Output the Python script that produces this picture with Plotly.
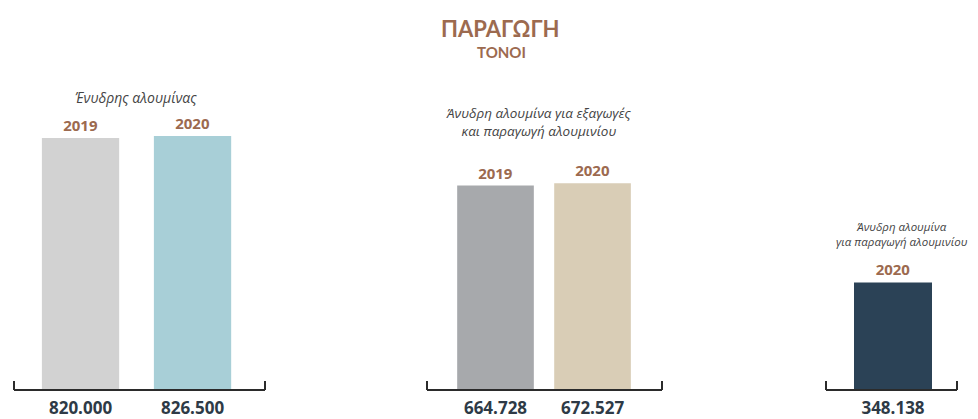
import plotly.graph_objects as go

# Production volumes (tonnes)
groups = [
    "Ένυδρης αλουμίνας",
    "Άνυδρη αλουμίνα για εξαγωγές<br>και παραγωγή αλουμινίου",
    "Άνυδρη αλουμίνα<br>για παραγωγή αλουμινίου",
]
years_hydrate = ["2019", "2020"]
tonnes_hydrate = [820000, 826500]
years_export = ["2019", "2020"]
tonnes_export = [664728, 672527]
years_smelter = ["2020"]
tonnes_smelter = [348138]

title_main = "ΠΑΡΑΓΩΓΗ"
title_unit = "ΤΟΝΟΙ"

W, H = 978, 419
BROWN = "#9c6a4f"
VALUE_COLOR = "#2e3a46"
BRACKET = "#2b2b2b"
NOTE = "#444444"


def fmt(v):
    return f"{v:,}".replace(",", ".")


panels = [
    dict(years=years_hydrate, vals=tonnes_hydrate, colors=["#d2d2d2", "#a8cfd7"],
         px=(14, 265), rng=[-0.594, 1.647], width=0.69, ax="x"),
    dict(years=years_export, vals=tonnes_export, colors=["#a7a9ac", "#d9cdb6"],
         px=(427, 662), rng=[-0.706, 1.716], width=0.79, ax="x2"),
    dict(years=years_smelter, vals=tonnes_smelter, colors=["#2b4256"],
         px=(826, 957), rng=[-0.67, 0.64], width=0.78, ax="x3"),
]

fig = go.Figure()
base_px = 389
y_dom0 = (H - base_px) / H
y_max = 1270800

shapes = []
for i, p in enumerate(panels):
    fig.add_trace(go.Bar(
        x=p["years"], y=p["vals"], xaxis=p["ax"], yaxis="y",
        marker=dict(color=p["colors"], line=dict(width=0)),
        width=p["width"],
        text=p["years"], textposition="outside",
        textfont=dict(family="Open Sans", size=15, color=BROWN, weight="bold"),
        cliponaxis=False, showlegend=False, hoverinfo="skip",
    ))
    key = "xaxis" if i == 0 else f"xaxis{i + 1}"
    fig.layout[key] = dict(
        domain=[p["px"][0] / W, p["px"][1] / W],
        range=p["rng"], type="category", anchor="y",
        showline=False, showgrid=False, zeroline=False, ticks="",
        tickvals=p["years"], ticktext=[fmt(v) for v in p["vals"]],
        tickfont=dict(family="Open Sans", size=17, color=VALUE_COLOR, weight="bold"),
        ticklabelstandoff=7,
        automargin=False, fixedrange=True,
    )
    dref = ("x" if i == 0 else f"x{i + 1}") + " domain"
    y_line = (H - 390) / H
    y_tick = (H - 381) / H
    for x0, y0, x1, y1 in [(0, y_line, 1, y_line), (0, y_line, 0, y_tick), (1, y_line, 1, y_tick)]:
        shapes.append(dict(type="line", xref=dref, yref="paper", x0=x0, x1=x1, y0=y0, y1=y1,
                           line=dict(color=BRACKET, width=2)))

annotations = [
    dict(text=title_main, x=500 / W, y=1 - 29 / H, font=dict(family="Lato", size=22, color=BROWN, weight="bold")),
    dict(text=title_unit, x=501 / W, y=1 - 52 / H, font=dict(family="Lato", size=15, color=BROWN, weight="bold")),
    dict(text=groups[0], x=136 / W, y=1 - 98 / H,
         font=dict(family="Open Sans", size=14, color=NOTE, style="italic")),
    dict(text=groups[1], x=539 / W, y=1 - 122 / H,
         font=dict(family="Open Sans", size=13.5, color=NOTE, style="italic")),
    dict(text=groups[2], x=902 / W, y=1 - 234 / H,
         font=dict(family="Open Sans", size=11.5, color=NOTE, style="italic")),
]
for a in annotations:
    a.update(xref="paper", yref="paper", showarrow=False, xanchor="center", yanchor="middle")

fig.update_layout(
    width=W, height=H, margin=dict(l=0, r=0, t=0, b=0),
    paper_bgcolor="white", plot_bgcolor="white",
    yaxis=dict(domain=[y_dom0, 1], range=[0, y_max], visible=False, fixedrange=True),
    shapes=shapes, annotations=annotations,
)

fig.write_html("out.html")
